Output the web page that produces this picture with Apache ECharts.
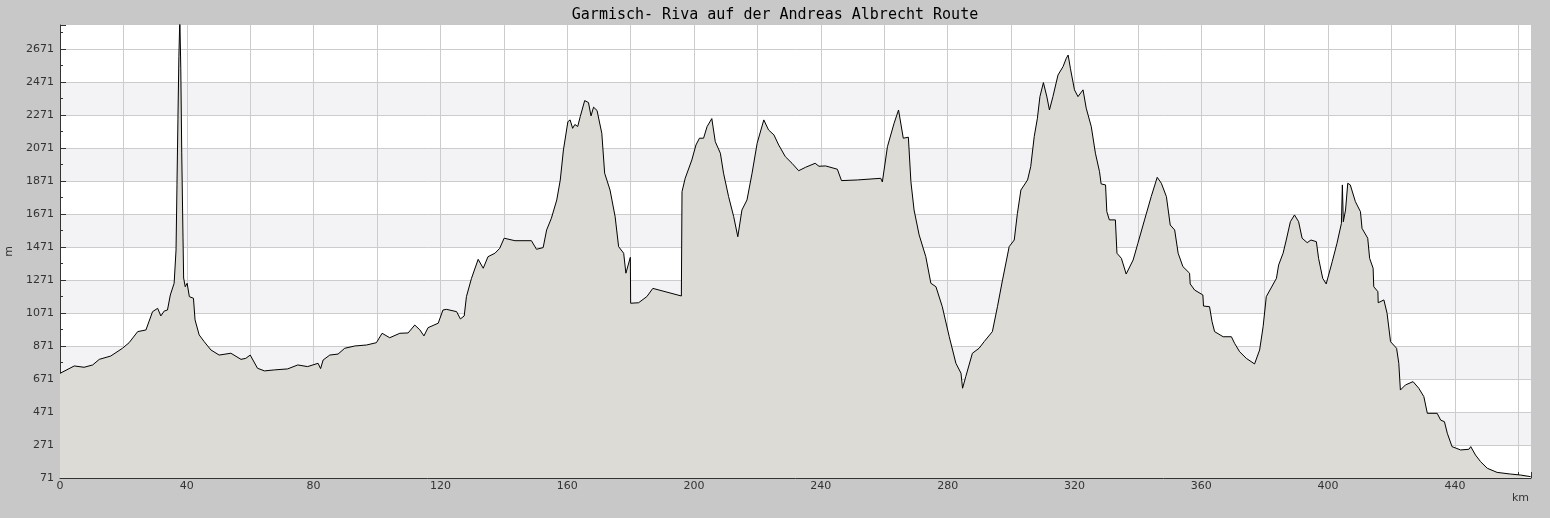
<!DOCTYPE html>
<html>
<head>
<meta charset="utf-8">
<script src="https://cdn.jsdelivr.net/npm/echarts@6/dist/echarts.min.js"></script>
<style>
html,body{margin:0;padding:0;background:#c8c8c8;}
#c{width:1550px;height:518px;}
</style>
</head>
<body>
<div id="c"></div>
<script>
var titleText = 'Garmisch- Riva auf der Andreas Albrecht Route';
var distanceKm = [0,4.5,7.6,10.3,12.4,16,19.7,21.8,24.5,27.1,29.2,30.8,31.8,32.9,33.9,34.8,36,36.6,36.9,37.2,37.5,37.8,38.1,38.4,38.8,39,39.5,40.1,40.8,42.1,42.6,43.9,45.5,47.6,50.2,53.9,57.1,58.6,60,62.3,64.5,67.6,71.8,75,78.1,81.4,82.2,83,85.1,87.7,89.8,93,96.7,99.8,101.6,104,107.2,109.8,111.9,113.5,114.8,116.1,119.3,120.8,121.9,125.1,126.3,127.5,128.2,129.8,131.9,133.5,135,137.2,138.7,140.1,143.5,148.7,150.3,152.4,153.5,155,156.7,157.8,158.8,160.2,160.9,161.7,162.4,163.3,164.1,165.5,166.7,167.5,168.3,169.4,170.9,171.8,173.5,175.1,176.2,177.8,178.5,179.9,180,182.5,185.1,187,196,196.2,197.2,199.3,200.6,201.7,203,204.1,205.6,206.7,208.3,209.3,210.9,212.5,213.8,215.1,216.7,218.3,219.9,222,223.5,225.2,226.7,228.8,230.9,233,235.2,238.2,239.4,241.5,245.2,246.5,251.5,258.9,259.4,261,263.1,264.5,266,267.6,268.4,269.4,271,273.1,274.7,276.3,278.3,280.5,282.6,284.2,284.7,285.7,287.8,289.9,291.5,294.1,295.7,297.3,299.4,301,302,303.1,305.2,306.2,307.3,308.3,309.1,310.2,311.3,312.1,313.2,314.8,316.4,317.4,318,318.7,320,321.1,322.7,323.7,325.3,326.6,327.9,328.4,329.8,330.2,331,332.9,333.4,334.8,336.3,338.5,340,342.1,344.2,346.1,347.4,349,350.2,351.6,352.7,354.2,356.3,356.5,357.9,360.5,360.7,362.6,363.4,364.2,366.9,369.5,370.5,372.1,374.2,376.8,378.4,379.5,380.5,383.7,384.4,385.8,386.8,388.1,389.4,390.7,391.8,393.4,394.6,396.3,397,398.3,399.4,401.3,402.8,404.2,404.5,404.8,405.5,406.2,407,408.6,410.2,410.7,412.5,413.1,414.2,414.4,415.7,415.8,417.6,418.6,419.7,421.6,422.3,422.8,424.4,426.8,428.6,430.2,431.3,434.4,435.5,436.7,437.6,439.1,441.8,444.4,445,446.5,448.1,450.2,453.3,457.5,460.7,463.9];
var elevationM = [705,750,742,756,790,810,857,891,958,968,1079,1099,1053,1083,1089,1180,1251,1453,1847,2241,2624,2860,2554,2041,1526,1283,1230,1251,1170,1160,1029,938,897,847,816,827,790,796,816,736,720,726,732,756,746,766,734,786,816,822,857,871,877,891,948,921,948,950,998,969,932,982,1009,1089,1093,1079,1035,1053,1170,1281,1396,1342,1412,1433,1463,1524,1509,1509,1457,1467,1574,1645,1756,1877,2059,2230,2241,2190,2213,2201,2261,2358,2346,2265,2318,2298,2160,1918,1816,1655,1473,1433,1312,1408,1130,1133,1170,1220,1174,1806,1887,1998,2089,2130,2130,2200,2249,2109,2039,1918,1776,1655,1533,1695,1756,1918,2099,2241,2180,2150,2089,2018,1978,1933,1954,1978,1960,1962,1942,1873,1877,1887,1865,2079,2221,2301,2130,2136,1867,1695,1544,1412,1251,1230,1109,927,766,706,615,685,827,857,897,958,1109,1271,1473,1513,1675,1816,1877,1958,2140,2251,2382,2467,2380,2301,2382,2513,2564,2614,2634,2554,2423,2382,2423,2312,2200,2039,1927,1853,1847,1685,1635,1635,1433,1402,1307,1392,1493,1635,1776,1893,1857,1776,1604,1574,1433,1352,1312,1247,1210,1180,1113,1109,1018,958,927,927,887,836,796,762,847,988,1170,1281,1362,1433,1513,1624,1665,1624,1524,1497,1513,1503,1402,1281,1247,1382,1493,1614,1847,1624,1695,1857,1847,1746,1685,1584,1524,1402,1342,1230,1200,1133,1150,1069,897,857,766,604,635,655,615,564,463,463,422,412,342,261,241,245,261,210,170,130,105,95,89,79];
var xMin = 0, xMax = 464, xStep = 20, xLabelStep = 40;
var yMin = 71, yMax = 2816, yStep = 200;

var seriesData = distanceKm.map(function (d, i) { return [d, elevationM[i]]; });
var nBands = Math.ceil((yMax - yMin) / yStep);
var bandColors = [];
for (var i = 0; i < nBands; i++) { bandColors.push((i % 2 === 1 && i < nBands - 1) ? '#f3f2f5' : '#ffffff'); }

var chart = echarts.init(document.getElementById('c'));
chart.setOption({
  backgroundColor: '#c8c8c8',
  animation: false,
  title: {
    text: titleText, left: 'center', top: 3,
    textStyle: { fontFamily: 'DejaVu Sans Mono', fontSize: 15, fontWeight: 'normal', color: '#000' }
  },
  grid: { left: 60, right: 19, top: 25, bottom: 40, show: true, backgroundColor: '#ffffff', borderWidth: 0, containLabel: false, outerBoundsMode: 'none' },
  xAxis: {
    type: 'value', min: xMin, max: xMax, interval: xStep,
    name: 'km', nameLocation: 'end', nameGap: -2,
    nameTextStyle: { fontFamily: 'DejaVu Sans', fontSize: 11, color: '#333', align: 'right', verticalAlign: 'top', padding: [15, 0, 0, 0] },
    axisLine: { show: true, lineStyle: { color: '#333', width: 1 } },
    axisTick: { show: true, inside: true, length: 6, lineStyle: { color: '#333' } },
    minorTick: { show: true, splitNumber: 2, length: 3, lineStyle: { color: '#333' } },
    splitLine: { show: true, showMaxLine: false, lineStyle: { color: '#cccccc', width: 1 } },
    axisLabel: {
      fontFamily: 'DejaVu Sans', fontSize: 11, color: '#333', margin: 3,
      formatter: function (v) { return (v % xLabelStep === 0) ? String(v) : ''; }
    }
  },
  yAxis: {
    type: 'value', min: yMin, max: yMax, interval: yStep,
    name: 'm', nameLocation: 'middle', nameGap: 43,
    nameTextStyle: { fontFamily: 'DejaVu Sans', fontSize: 11, color: '#333' },
    axisLine: { show: true, lineStyle: { color: '#333', width: 1 } },
    axisTick: { show: true, inside: true, length: 6, lineStyle: { color: '#333' } },
    minorTick: { show: true, splitNumber: 2, length: 3, lineStyle: { color: '#333' } },
    splitLine: { show: true, showMaxLine: false, lineStyle: { color: '#cccccc', width: 1 } },
    splitArea: { show: true, areaStyle: { color: bandColors } },
    axisLabel: {
      fontFamily: 'DejaVu Sans', fontSize: 11, color: '#333', margin: 6, showMaxLabel: false,
      formatter: function (v) { return String(v); }
    }
  },
  series: [{
    type: 'line', data: seriesData, showSymbol: false, symbol: 'none', clip: true,
    lineStyle: { color: '#000', width: 1 },
    areaStyle: { color: '#dcdbd6', opacity: 1 }
  }]
});
</script>
</body>
</html>
